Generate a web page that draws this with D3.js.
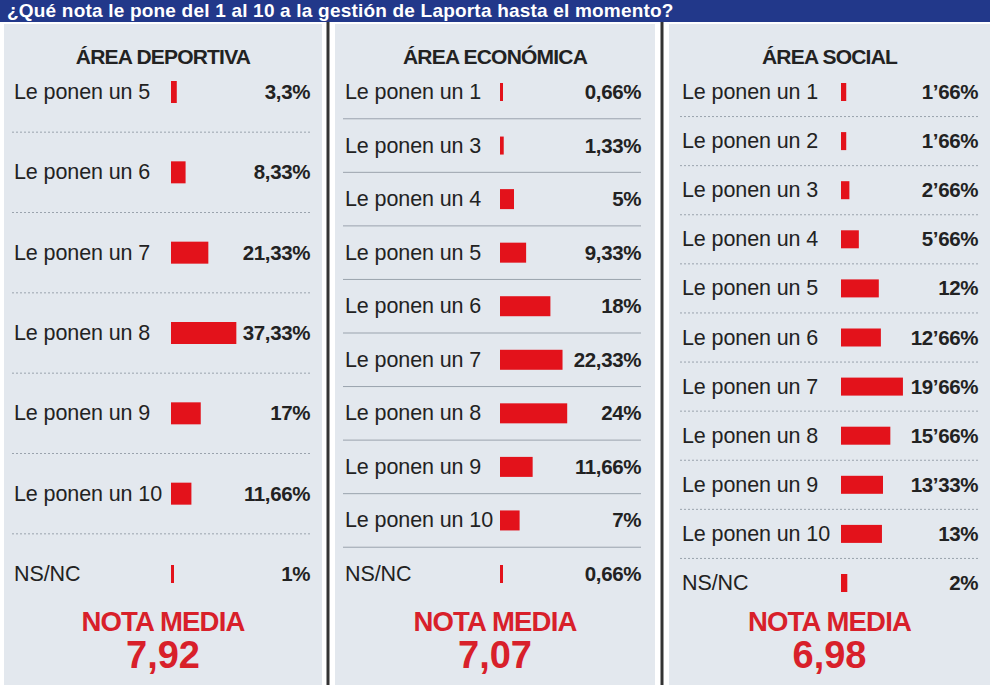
<!DOCTYPE html><html><head><meta charset="utf-8"><script src="https://cdn.jsdelivr.net/npm/d3@7"></script>
<style>body{margin:0;background:#fff}text{font-family:"Liberation Sans",Arial,sans-serif}</style></head><body>
<svg id="c" width="990" height="685"></svg>
<script>
const title="¿Qué nota le pone del 1 al 10 a la gestión de Laporta hasta el momento?";
const depLabels=["Le ponen un 5","Le ponen un 6","Le ponen un 7","Le ponen un 8","Le ponen un 9","Le ponen un 10","NS/NC"];
const depValues=[3.3,8.33,21.33,37.33,17,11.66,1];
const depText=["3,3%","8,33%","21,33%","37,33%","17%","11,66%","1%"];
const ecoLabels=["Le ponen un 1","Le ponen un 3","Le ponen un 4","Le ponen un 5","Le ponen un 6","Le ponen un 7","Le ponen un 8","Le ponen un 9","Le ponen un 10","NS/NC"];
const ecoValues=[0.66,1.33,5,9.33,18,22.33,24,11.66,7,0.66];
const ecoText=["0,66%","1,33%","5%","9,33%","18%","22,33%","24%","11,66%","7%","0,66%"];
const socLabels=["Le ponen un 1","Le ponen un 2","Le ponen un 3","Le ponen un 4","Le ponen un 5","Le ponen un 6","Le ponen un 7","Le ponen un 8","Le ponen un 9","Le ponen un 10","NS/NC"];
const socValues=[1.66,1.66,2.66,5.66,12,12.66,19.66,15.66,13.33,13,2];
const socText=["1’66%","1’66%","2’66%","5’66%","12%","12’66%","19’66%","15’66%","13’33%","13%","2%"];
const means=["7,92","7,07","6,98"];
const heads=["ÁREA DEPORTIVA","ÁREA ECONÓMICA","ÁREA SOCIAL"];

const svg=d3.select("#c");
svg.append("rect").attr("width",990).attr("height",22).attr("fill","#22388a");
svg.append("text").attr("x",7).attr("y",17).attr("fill","#fff").attr("font-size",19).attr("font-weight","bold").attr("letter-spacing",0.2).text(title);

const panels=[
 {x0:4,x1:322,lx:14,bx:171,vx:310,y0:92,y1:574,k:1.75,h:22,labels:depLabels,values:depValues,text:depText,dash:"2,2"},
 {x0:335,x1:655,lx:345,bx:500,vx:641,y0:92,y1:574,k:2.8,h:20,labels:ecoLabels,values:ecoValues,text:ecoText,dash:null},
 {x0:669,x1:990,lx:682,bx:841,vx:978,y0:92,y1:583,k:3.15,h:18,labels:socLabels,values:socValues,text:socText,dash:"2,2"}
];
[328,662].forEach(x=>svg.append("rect").attr("x",x-1.5).attr("y",22).attr("width",3).attr("height",663).attr("fill","#333"));
panels.forEach((p,i)=>{
  const g=svg.append("g");
  g.append("rect").attr("x",p.x0).attr("y",24).attr("width",p.x1-p.x0).attr("height",661).attr("fill","#e3e8ee");
  const cx=(p.x0+p.x1)/2;
  g.append("text").attr("x",cx).attr("y",64).attr("text-anchor","middle").attr("font-size",21).attr("font-weight","bold").attr("fill","#222").attr("letter-spacing",-0.8).text(heads[i]);
  const y=d3.scalePoint().domain(p.labels).range([p.y0,p.y1]);
  const x=d3.scaleLinear().domain([0,1]).range([0,p.k]);
  const step=y.step();
  p.labels.slice(1).forEach(l=>{
    g.append("line").attr("x1",p.lx-2).attr("x2",p.vx).attr("y1",y(l)-step/2).attr("y2",y(l)-step/2)
     .attr("stroke","#9aa3ad").attr("stroke-width",1).attr("stroke-dasharray",p.dash);
  });
  p.labels.forEach((l,j)=>{
    const v=p.values[j], w=Math.max(3,x(v)), hh=v<3?18:p.h;
    g.append("text").attr("x",p.lx).attr("y",y(l)+7).attr("font-size",21.5).attr("fill","#222").attr("letter-spacing",-0.1).text(l);
    g.append("rect").attr("x",p.bx).attr("y",y(l)-hh/2).attr("width",w).attr("height",hh).attr("fill","#e3121b");
    g.append("text").attr("x",p.vx).attr("y",y(l)+7).attr("text-anchor","end").attr("font-size",20.5).attr("font-weight","bold").attr("fill","#222").attr("letter-spacing",-0.4).text(p.text[j]);
  });
  g.append("text").attr("x",cx).attr("y",631).attr("text-anchor","middle").attr("font-size",27.5).attr("font-weight","bold").attr("fill","#d8202a").attr("letter-spacing",-0.8).text("NOTA MEDIA");
  g.append("text").attr("x",cx).attr("y",668).attr("text-anchor","middle").attr("font-size",38).attr("font-weight","bold").attr("fill","#d8202a").text(means[i]);
});
</script></body></html>
